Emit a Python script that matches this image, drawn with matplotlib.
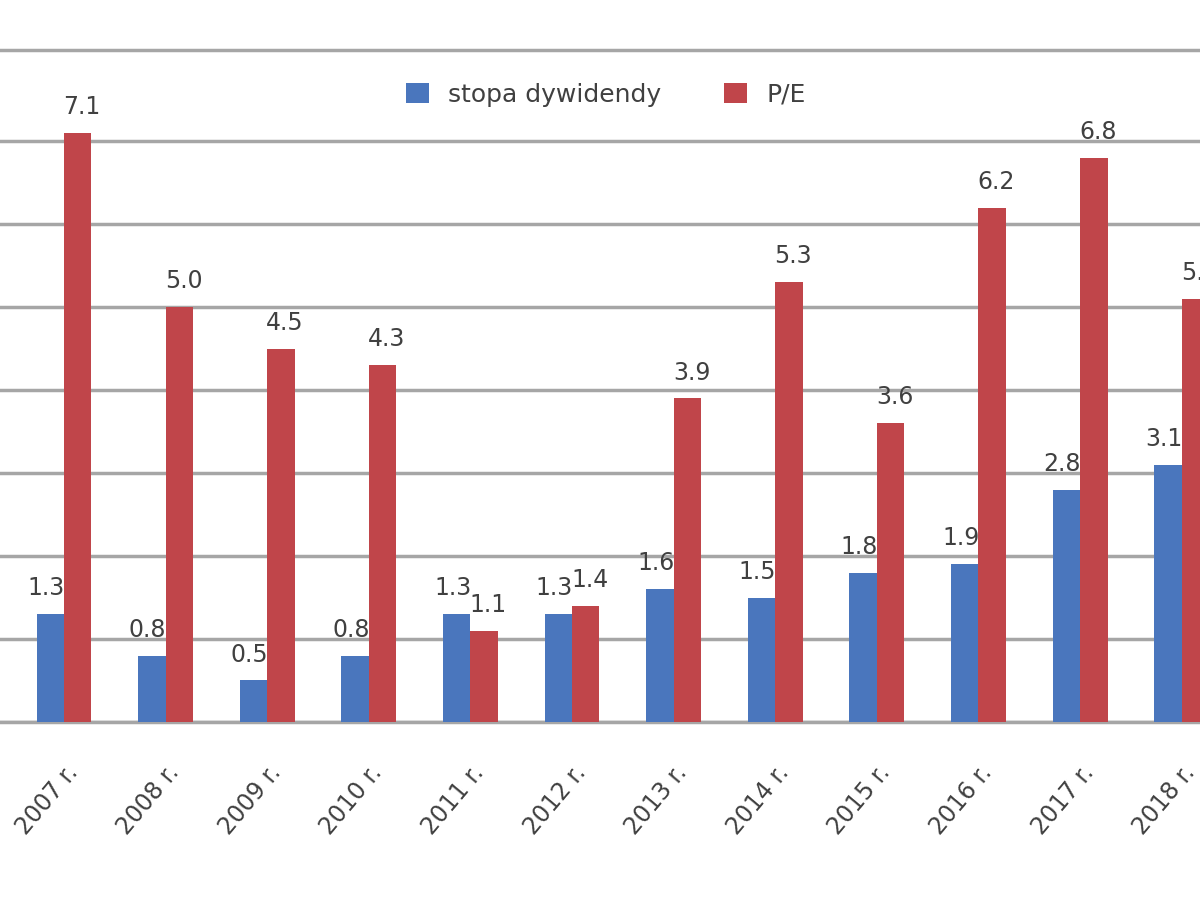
import numpy as np
import matplotlib
matplotlib.use('Agg')
import matplotlib.pyplot as plt

years = ['2007 r.', '2008 r.', '2009 r.', '2010 r.', '2011 r.', '2012 r.',
         '2013 r.', '2014 r.', '2015 r.', '2016 r.', '2017 r.', '2018 r.']
dividend_yield = [1.3, 0.8, 0.5, 0.8, 1.3, 1.3, 1.6, 1.5, 1.8, 1.9, 2.8, 3.1]
pe_ratio = [7.1, 5.0, 4.5, 4.3, 1.1, 1.4, 3.9, 5.3, 3.6, 6.2, 6.8, 5.1]

blue = '#4a76bd'
red = '#c0454a'
grid_gray = '#a6a6a6'
text_gray = '#404040'


def main():
    fig = plt.figure(figsize=(12, 9.23), dpi=100)
    ax = fig.add_axes([0, 0.2178, 1, 0.728])

    x = np.arange(len(years))
    w = 0.27
    b1 = ax.bar(x - w / 2, dividend_yield, w, color=blue, label='stopa dywidendy', zorder=3)
    b2 = ax.bar(x + w / 2, pe_ratio, w, color=red, label='P/E', zorder=3)

    for bars, vals, dx in ((b1, dividend_yield, -3), (b2, pe_ratio, 3)):
        for rect, v in zip(bars, vals):
            ax.annotate(f'{v:.1f}', (rect.get_x() + rect.get_width() / 2, v),
                        xytext=(dx, 10), textcoords='offset points',
                        ha='center', va='bottom', fontsize=17, color=text_gray)

    ax.set_xlim(-0.63, 11.18)
    ax.set_ylim(0, 8.1)
    ax.set_yticks(range(0, 8))
    ax.yaxis.grid(True, color=grid_gray, linewidth=2.5, zorder=0)
    ax.tick_params(axis='y', length=0, labelleft=False)
    ax.tick_params(axis='x', length=0, pad=28)
    ax.set_xticks(x)
    ax.set_xticklabels(years, rotation=50, ha='right', rotation_mode='anchor',
                       fontsize=17, color=text_gray)

    for side in ('left', 'right'):
        ax.spines[side].set_visible(False)
    for side in ('top', 'bottom'):
        ax.spines[side].set_color(grid_gray)
        ax.spines[side].set_linewidth(2.5)

    ax.legend(loc='upper center', bbox_to_anchor=(0.505, 0.985), ncol=2,
              frameon=False, fontsize=18, handlelength=0.9, handleheight=0.9,
              columnspacing=2.5, labelcolor=text_gray)

    fig.savefig('out.png', dpi=100)
    plt.close(fig)


if __name__ == "__main__":
    main()
